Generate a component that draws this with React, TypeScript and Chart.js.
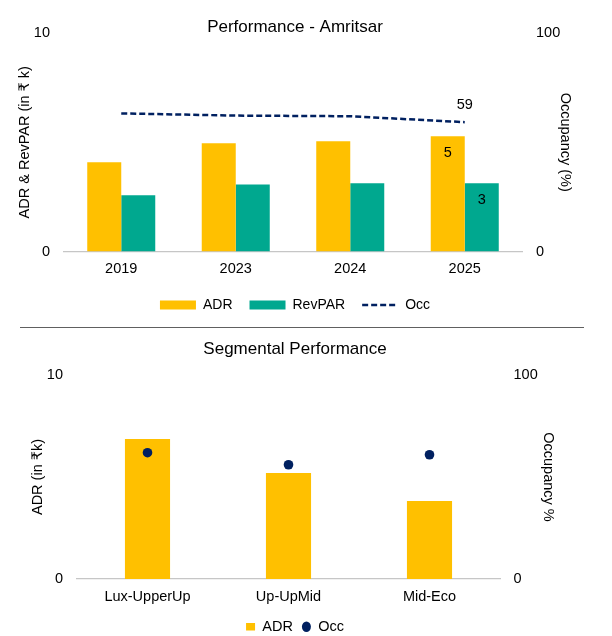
import React, { useEffect, useRef } from "react";
import { Chart, registerables } from "chart.js";

Chart.register(...registerables);

// ---------- data ----------
const years = ["2019", "2023", "2024", "2025"];
const adr = [4.08, 4.95, 5.05, 5.28];
const revpar = [2.57, 3.07, 3.12, 3.12];
const occ = [63.2, 62.2, 61.9, 59.2];

const segments = ["Lux-UpperUp", "Up-UpMid", "Mid-Eco"];
const segAdr = [6.86, 5.2, 3.82];
const segOcc = [61.9, 56.0, 60.9];

const adrAxisMax = 10;
const occAxisMax = 100;

// ---------- styles ----------
const FONT = "'Liberation Sans', Arial, 'DejaVu Sans', sans-serif";
const TEXT = "#000000";
const YELLOW = "#FFC000";
const TEAL = "#00A88F";
const NAVY = "#002060";
const AXIS = "#C6C6C6";
const FS = 14.5;

Chart.defaults.font.family = FONT;
Chart.defaults.color = TEXT;

const lastLabelPlugin = {
  id: "lastLabels",
  afterDatasetsDraw(chart: any, _args: any, opts: any) {
    if (!opts || !opts.items) return;
    const ctx = chart.ctx;
    ctx.save();
    ctx.font = `${FS}px ${FONT}`;
    ctx.fillStyle = TEXT;
    ctx.textAlign = "center";
    ctx.textBaseline = "middle";
    opts.items.forEach((it: any) => {
      const el = chart.getDatasetMeta(it.ds).data[it.idx];
      const v = chart.data.datasets[it.ds].data[it.idx];
      if (el) ctx.fillText(String(Math.round(v)), el.x, el.y + it.dy);
    });
    ctx.restore();
  },
};

function makeLegendLabels(orderList: string[]) {
  return (chart: any) => {
    const base = (Chart.defaults as any).plugins.legend.labels.generateLabels(chart);
    base.forEach((it: any) => {
      const ds = chart.data.datasets[it.datasetIndex];
      if (ds.borderDash) {
        it.lineDash = ds.borderDash;
        it.lineWidth = ds.borderWidth;
        it.strokeStyle = ds.borderColor;
      }
    });
    base.sort((a: any, b: any) => orderList.indexOf(a.text) - orderList.indexOf(b.text));
    return base;
  };
}

function topConfig(): any {
  return {
    type: "bar",
    data: {
      labels: years,
      datasets: [
        {
          type: "line",
          label: "Occ",
          data: occ,
          borderColor: NAVY,
          backgroundColor: NAVY,
          borderWidth: 2.5,
          borderDash: [6, 3],
          pointRadius: 0,
          pointStyle: "line",
          tension: 0,
          yAxisID: "y1",
          order: 0,
        },
        {
          type: "bar",
          label: "ADR",
          data: adr,
          backgroundColor: YELLOW,
          borderWidth: 0,
          pointStyle: "rect",
          categoryPercentage: 0.594,
          barPercentage: 1,
          yAxisID: "y",
          order: 1,
        },
        {
          type: "bar",
          label: "RevPAR",
          data: revpar,
          backgroundColor: TEAL,
          borderWidth: 0,
          pointStyle: "rect",
          categoryPercentage: 0.594,
          barPercentage: 1,
          yAxisID: "y",
          order: 1,
        },
      ],
    },
    options: {
      animation: false,
      responsive: true,
      maintainAspectRatio: false,
      layout: { padding: { left: 0, right: 22, top: 0, bottom: 0 } },
      plugins: {
        title: {
          display: true,
          text: "Performance - Amritsar",
          color: TEXT,
          font: { size: 17, weight: "normal", family: FONT },
          padding: { top: 16.8, bottom: -4.2 },
        },
        legend: {
          position: "bottom",
          labels: {
            usePointStyle: true,
            pointStyleWidth: 36,
            boxHeight: 9,
            padding: 17,
            color: TEXT,
            font: { size: 14 },
            generateLabels: makeLegendLabels(["ADR", "RevPAR", "Occ"]),
          },
        },
        tooltip: { enabled: false },
        lastLabels: {
          items: [
            { ds: 1, idx: 3, dy: 17 },
            { ds: 2, idx: 3, dy: 17 },
            { ds: 0, idx: 3, dy: -17 },
          ],
        },
      },
      scales: {
        x: {
          grid: { display: false, drawTicks: false, tickLength: 0 },
          border: { display: true, color: AXIS, width: 1.25 },
          ticks: { padding: 8.3, color: TEXT, font: { size: FS } },
          afterFit: (s: any) => {
            s.height = 29.5;
          },
        },
        y: {
          position: "left",
          min: 0,
          max: adrAxisMax,
          grid: { display: false, drawTicks: false, tickLength: 0 },
          border: { display: false },
          ticks: { stepSize: 10, padding: 14, color: TEXT, font: { size: FS } },
          title: {
            display: true,
            text: "ADR & RevPAR (in ₹ k)",
            color: TEXT,
            font: { size: FS },
            padding: { top: 16.3, bottom: 0 },
          },
          afterFit: (s: any) => {
            s.width = 64;
          },
        },
        y1: {
          position: "right",
          min: 0,
          max: occAxisMax,
          grid: { display: false, drawTicks: false, tickLength: 0 },
          border: { display: false },
          ticks: { stepSize: 100, padding: 14, color: TEXT, font: { size: FS } },
          title: {
            display: true,
            text: "Occupancy (%)",
            color: TEXT,
            font: { size: FS },
            padding: { top: 16.3, bottom: 0 },
          },
          afterFit: (s: any) => {
            s.width = 68;
          },
        },
      },
    },
    plugins: [lastLabelPlugin],
  };
}

function bottomConfig(): any {
  return {
    type: "bar",
    data: {
      labels: segments,
      datasets: [
        {
          type: "line",
          label: "Occ",
          data: segOcc,
          showLine: false,
          borderColor: NAVY,
          backgroundColor: NAVY,
          borderWidth: 0,
          pointRadius: 4.8,
          pointStyle: "circle",
          yAxisID: "y1",
          order: 0,
        },
        {
          type: "bar",
          label: "ADR",
          data: segAdr,
          backgroundColor: YELLOW,
          borderWidth: 0,
          pointStyle: "rect",
          categoryPercentage: 0.32,
          barPercentage: 1,
          yAxisID: "y",
          order: 1,
        },
      ],
    },
    options: {
      animation: false,
      responsive: true,
      maintainAspectRatio: false,
      layout: { padding: { left: 0, right: 22, top: 0, bottom: 0 } },
      plugins: {
        title: {
          display: true,
          text: "Segmental Performance",
          color: TEXT,
          font: { size: 17, weight: "normal", family: FONT },
          padding: { top: 10.8, bottom: 15.8 },
        },
        legend: {
          position: "bottom",
          labels: {
            usePointStyle: true,
            pointStyleWidth: 9,
            boxHeight: 7.5,
            padding: 9,
            color: TEXT,
            font: { size: FS },
            generateLabels: makeLegendLabels(["ADR", "Occ"]),
          },
        },
        tooltip: { enabled: false },
      },
      scales: {
        x: {
          grid: { display: false, drawTicks: false, tickLength: 0 },
          border: { display: true, color: AXIS, width: 1.25 },
          ticks: { padding: 9.3, color: TEXT, font: { size: FS } },
          afterFit: (s: any) => {
            s.height = 31.5;
          },
        },
        y: {
          position: "left",
          min: 0,
          max: adrAxisMax,
          grid: { display: false, drawTicks: false, tickLength: 0 },
          border: { display: false },
          ticks: { stepSize: 10, padding: 14, color: TEXT, font: { size: FS } },
          title: {
            display: true,
            text: "ADR (in ₹k)",
            color: TEXT,
            font: { size: FS },
            padding: { top: 29.3, bottom: 0 },
          },
          afterFit: (s: any) => {
            s.width = 77;
          },
        },
        y1: {
          position: "right",
          min: 0,
          max: occAxisMax,
          grid: { display: false, drawTicks: false, tickLength: 0 },
          border: { display: false },
          ticks: { stepSize: 100, padding: 13.5, color: TEXT, font: { size: FS } },
          title: {
            display: true,
            text: "Occupancy %",
            color: TEXT,
            font: { size: FS },
            padding: { top: 33.3, bottom: 0 },
          },
          afterFit: (s: any) => {
            s.width = 90;
          },
        },
      },
    },
  };
}

function ChartBox({ make, style }: { make: () => any; style: React.CSSProperties }) {
  const ref = useRef<HTMLCanvasElement | null>(null);
  useEffect(() => {
    if (!ref.current) return;
    const chart = new Chart(ref.current, make());
    return () => chart.destroy();
  }, []);
  return (
    <div style={{ position: "absolute", ...style }}>
      <canvas ref={ref} />
    </div>
  );
}

export default function App() {
  return (
    <div
      style={{
        position: "absolute",
        left: 0,
        top: 0,
        width: 612,
        height: 636,
        overflow: "hidden",
        background: "#fff",
      }}
    >
      <ChartBox make={topConfig} style={{ left: 0, top: 0, width: 612, height: 322 }} />
      <div
        style={{
          position: "absolute",
          left: 20,
          top: 326.5,
          width: 564,
          height: 1.5,
          background: "#606060",
        }}
      />
      <ChartBox make={bottomConfig} style={{ left: 0, top: 328, width: 612, height: 316 }} />
    </div>
  );
}
